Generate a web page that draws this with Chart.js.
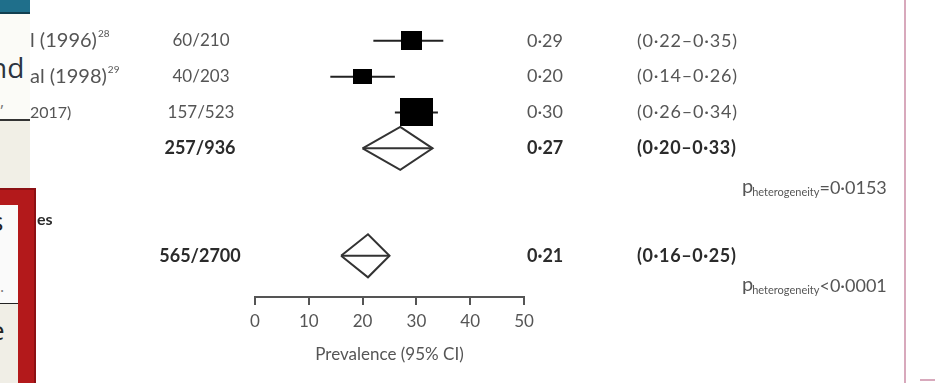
<!DOCTYPE html>
<html>
<head>
<meta charset="utf-8">
<script src="https://cdn.jsdelivr.net/npm/chart.js@4/dist/chart.umd.min.js"></script>
<style>
  html, body { margin: 0; padding: 0; background: #fff; }
  #wrap { position: relative; width: 935px; height: 383px; overflow: hidden; }
  #forest { position: absolute; left: 0; top: 0; }
  .ui { position: absolute; box-sizing: border-box; overflow: hidden; }
</style>
</head>
<body>
<div id="wrap">
  <canvas id="forest" width="935" height="383"></canvas>

  <!-- cropped slide UI on the left edge -->
  <div class="ui" style="left:0;top:0;width:30px;height:14px;background:#1f6f8b;border-bottom:2px solid #123f50;"></div>
  <div class="ui" style="left:0;top:14px;width:30px;height:107px;background:#fbfbf7;border-bottom:2px solid #333;">
    <div style="position:absolute;left:-10px;top:34px;font:28px 'Open Sans';color:#2c3440;">nd</div>
    <div style="position:absolute;left:0;top:76px;font:16px 'Open Sans';color:#777;">,</div>
  </div>
  <div class="ui" style="left:0;top:121px;width:30px;height:68px;background:#f1efe6;"></div>
  <div class="ui" style="left:-6px;top:188px;width:42px;height:200px;background:#b3191b;border:2px solid #8c1013;"></div>
  <div class="ui" style="left:0;top:205px;width:18px;height:99px;background:#fafafa;border-bottom:1px solid #222;">
    <div style="position:absolute;left:-9px;top:-2px;font:26px 'Open Sans';color:#222;">s</div>
    <div style="position:absolute;left:0;top:70px;font:16px 'Open Sans';color:#777;">.</div>
  </div>
  <div class="ui" style="left:0;top:304px;width:18px;height:80px;background:#f0eee6;">
    <div style="position:absolute;left:-10px;top:8px;font:26px 'Open Sans';color:#222;">e</div>
  </div>

  <!-- right frame edge -->
  <div class="ui" style="left:904px;top:0;width:2px;height:383px;background:#d8a9bc;"></div>
  <div class="ui" style="left:920px;top:379px;width:15px;height:2px;background:#d8a9bc;"></div>
</div>

<script>
// ---- data ----
const studyLabels = ['l (1996)', 'al (1998)', '2017)'];
const studyRefs = ['28', '29', ''];
const studyCounts = ['60/210', '40/203', '157/523'];
const studyEst = [0.29, 0.20, 0.30];
const studyLo = [0.22, 0.14, 0.26];
const studyHi = [0.35, 0.26, 0.34];
const studyRows = [0, 1, 2];

const pooledCounts = ['257/936', '565/2700'];
const pooledEst = [0.27, 0.21];
const pooledLo = [0.20, 0.16];
const pooledHi = [0.33, 0.25];
const pooledRows = [3, 6];

const sectionLabel = 'es';
const sectionRow = 5;
const pHetValues = ['=0·0153', '<0·0001'];
const pHetRows = [4.1, 6.85];

const xTicks = [0, 10, 20, 30, 40, 50];
const xTitle = 'Prevalence (95% CI)';

// ---- styles ----
const boxSizes = [[21, 19], [19, 15], [33, 28]];
const labelSizes = [20, 20, 16];
const ink = '#2b2b2b';
const grey = '#555';
const FONT = 'Lato';
const diamondHalf = 0.6;

const fmt = v => v.toFixed(2).replace('.', '·');

function boxImage(w, h) {
  const c = document.createElement('canvas');
  c.width = w;
  c.height = h;
  const g = c.getContext('2d');
  g.fillStyle = '#000';
  g.fillRect(0, 0, w, h);
  return c;
}

const datasets = [];

// boxes (index 0 so they sit on top of whiskers)
datasets.push({
  type: 'scatter',
  data: studyEst.map((v, i) => ({ x: v * 100, y: studyRows[i] })),
  pointStyle: boxSizes.map(s => boxImage(s[0], s[1])),
  pointRadius: 12
});

// whiskers
studyEst.forEach((v, i) => {
  datasets.push({
    type: 'line',
    data: [{ x: studyLo[i] * 100, y: studyRows[i] }, { x: studyHi[i] * 100, y: studyRows[i] }],
    borderColor: '#222',
    borderWidth: 2,
    pointRadius: 0
  });
});

// pooled diamonds with a line through the middle
pooledEst.forEach((v, i) => {
  const r = pooledRows[i];
  datasets.push({
    type: 'line',
    data: [
      { x: pooledLo[i] * 100, y: r },
      { x: v * 100, y: r - diamondHalf },
      { x: pooledHi[i] * 100, y: r },
      { x: v * 100, y: r + diamondHalf },
      { x: pooledLo[i] * 100, y: r }
    ],
    borderColor: '#333',
    borderWidth: 2,
    pointRadius: 0,
    fill: false
  });
  datasets.push({
    type: 'line',
    data: [{ x: pooledLo[i] * 100, y: r }, { x: pooledHi[i] * 100, y: r }],
    borderColor: '#333',
    borderWidth: 2,
    pointRadius: 0
  });
});

// columns of text next to the plot
const textPlugin = {
  id: 'forestText',
  afterDatasetsDraw(chart) {
    const ctx = chart.ctx;
    const ys = chart.scales.y;
    ctx.save();
    ctx.textBaseline = 'middle';

    const put = (str, x, row, font, color, align, spacing) => {
      ctx.font = font;
      ctx.fillStyle = color;
      ctx.textAlign = align || 'left';
      ctx.letterSpacing = spacing || '0px';
      ctx.fillText(str, x, ys.getPixelForValue(row));
      ctx.letterSpacing = '0px';
    };

    studyLabels.forEach((lab, i) => {
      const f = `${labelSizes[i]}px ${FONT}`;
      put(lab, 30, studyRows[i], f, grey);
      ctx.font = f;
      const w = ctx.measureText(lab).width;
      if (studyRefs[i]) {
        ctx.font = `10px ${FONT}`;
        ctx.fillStyle = grey;
        ctx.fillText(studyRefs[i], 30 + w + 1, ys.getPixelForValue(studyRows[i]) - 7);
      }
      put(studyCounts[i], 201, studyRows[i], `17px ${FONT}`, grey, 'center');
      put(fmt(studyEst[i]), 527, studyRows[i], `18px ${FONT}`, grey);
      put(`(${fmt(studyLo[i])}–${fmt(studyHi[i])})`, 637, studyRows[i], `18px ${FONT}`, grey, 'left', '0.8px');
    });

    put(sectionLabel, 37, sectionRow, `bold 16px ${FONT}`, ink);

    pooledEst.forEach((v, i) => {
      put(pooledCounts[i], 200, pooledRows[i], `bold 18px ${FONT}`, ink, 'center');
      put(fmt(v), 527, pooledRows[i], `bold 18px ${FONT}`, ink);
      put(`(${fmt(pooledLo[i])}–${fmt(pooledHi[i])})`, 637, pooledRows[i], `bold 18px ${FONT}`, ink, 'left', '0.6px');
    });

    pHetValues.forEach((val, i) => {
      const y = ys.getPixelForValue(pHetRows[i]);
      ctx.textAlign = 'left';
      ctx.textBaseline = 'alphabetic';
      ctx.fillStyle = grey;
      let x = 742;
      ctx.font = `20px ${FONT}`;
      ctx.fillText('p', x, y + 5);
      x += ctx.measureText('p').width - 1;
      ctx.font = `11px ${FONT}`;
      ctx.fillText('heterogeneity', x, y + 8);
      x += ctx.measureText('heterogeneity').width;
      ctx.font = `18px ${FONT}`;
      ctx.fillText(val, x, y + 6);
    });

    ctx.restore();
  }
};

new Chart(document.getElementById('forest'), {
  type: 'scatter',
  data: { datasets },
  options: {
    responsive: false,
    animation: false,
    layout: { autoPadding: false, padding: { left: 255, right: 411, top: 5, bottom: 0 } },
    plugins: {
      legend: { display: false },
      tooltip: { enabled: false }
    },
    scales: {
      x: {
        type: 'linear',
        min: 0,
        max: 50,
        afterBuildTicks: axis => { axis.ticks = xTicks.map(v => ({ value: v })); },
        afterFit: axis => { axis.height = 86; },
        ticks: { color: grey, font: { family: FONT, size: 17 }, padding: 6, maxRotation: 0 },
        grid: { display: true, drawOnChartArea: false, drawTicks: true, tickLength: 8, color: grey, lineWidth: 2 },
        border: { display: true, color: grey, width: 2 },
        title: { display: true, text: xTitle, color: grey, font: { family: FONT, size: 17 }, padding: { top: 0, bottom: 18 } }
      },
      y: {
        type: 'linear',
        min: -1,
        max: 7.15,
        reverse: true,
        display: false
      }
    }
  },
  plugins: [textPlugin]
});
</script>
</body>
</html>
